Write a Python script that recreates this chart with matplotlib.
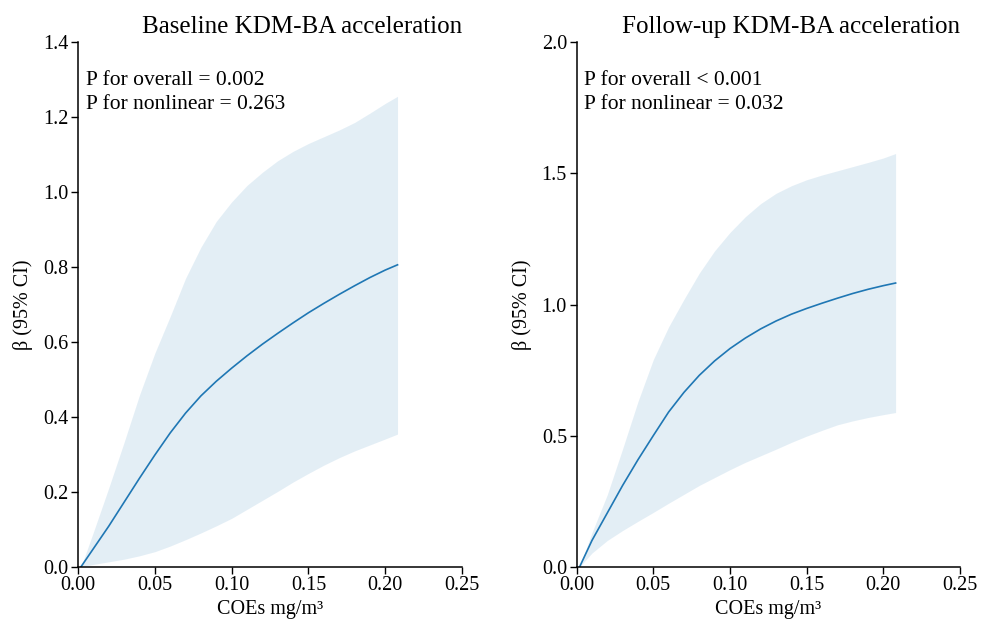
import matplotlib
matplotlib.use("Agg")
import matplotlib.pyplot as plt

plt.rcParams['font.family'] = ['Liberation Serif', 'DejaVu Serif']

# ---- data ----
x_vals = [0.002, 0.01, 0.02, 0.03, 0.04, 0.05, 0.06, 0.07, 0.08, 0.09, 0.10,
          0.11, 0.12, 0.13, 0.14, 0.15, 0.16, 0.17, 0.18, 0.19, 0.20, 0.208]

base_fit = [0.0, 0.048, 0.108, 0.172, 0.236, 0.298, 0.357, 0.41, 0.456, 0.495, 0.530,
            0.563, 0.594, 0.623, 0.651, 0.678, 0.703, 0.727, 0.750, 0.772, 0.792, 0.806]
base_upper = [0.0, 0.092, 0.21, 0.332, 0.458, 0.57, 0.668, 0.77, 0.853, 0.922, 0.974,
              1.018, 1.053, 1.084, 1.109, 1.130, 1.148, 1.166, 1.186, 1.211, 1.237, 1.256]
base_lower = [0.0, 0.006, 0.013, 0.020, 0.029, 0.040, 0.055, 0.072, 0.090, 0.109, 0.129,
              0.153, 0.177, 0.201, 0.226, 0.249, 0.271, 0.291, 0.309, 0.325, 0.341, 0.354]

fu_fit = [0.0, 0.10, 0.205, 0.31, 0.408, 0.50, 0.59, 0.665, 0.73, 0.785, 0.832,
          0.872, 0.907, 0.937, 0.963, 0.985, 1.005, 1.024, 1.042, 1.058, 1.072, 1.082]
fu_upper = [0.0, 0.13, 0.275, 0.45, 0.63, 0.79, 0.915, 1.02, 1.12, 1.205, 1.275,
            1.335, 1.385, 1.424, 1.453, 1.476, 1.494, 1.51, 1.526, 1.542, 1.559, 1.576]
fu_lower = [0.0, 0.052, 0.10, 0.138, 0.173, 0.207, 0.242, 0.276, 0.31, 0.34, 0.37,
            0.398, 0.423, 0.448, 0.474, 0.498, 0.52, 0.541, 0.556, 0.569, 0.58, 0.588]

titles = ["Baseline KDM-BA acceleration", "Follow-up KDM-BA acceleration"]
annotations = ["P for overall = 0.002\nP for nonlinear = 0.263",
               "P for overall < 0.001\nP for nonlinear = 0.032"]
x_ticks = [0.00, 0.05, 0.10, 0.15, 0.20, 0.25]
y_ticks_base = [0.0, 0.2, 0.4, 0.6, 0.8, 1.0, 1.2, 1.4]
y_ticks_fu = [0.0, 0.5, 1.0, 1.5, 2.0]

line_color = '#1f77b4'
band_color = '#1f77b4'

fig = plt.figure(figsize=(9.81, 6.23), dpi=100)
ax1 = fig.add_axes([0.0795, 0.0904, 0.3915, 0.8416])
ax2 = fig.add_axes([0.5878, 0.0904, 0.3908, 0.8416])

panels = [
    (ax1, base_fit, base_lower, base_upper, y_ticks_base),
    (ax2, fu_fit, fu_lower, fu_upper, y_ticks_fu),
]

for i, (ax, fit, lo, hi, yt) in enumerate(panels):
    ax.fill_between(x_vals, lo, hi, color=band_color, alpha=0.12, linewidth=0)
    ax.plot(x_vals, fit, color=line_color, linewidth=1.2)
    ax.set_xlim(0, 0.25)
    ax.set_ylim(yt[0], yt[-1])
    ax.set_xticks(x_ticks)
    ax.set_xticklabels([f"{t:.2f}" for t in x_ticks])
    ax.set_yticks(yt)
    ax.set_yticklabels([f"{t:.1f}" for t in yt])
    ax.tick_params(axis='both', labelsize=14.5, length=5, width=1, direction='out', pad=2)
    for s in ['top', 'right']:
        ax.spines[s].set_visible(False)
    for s in ['left', 'bottom']:
        ax.spines[s].set_linewidth(1.1)
    ax.set_xlabel("COEs mg/m³", fontsize=14.5, labelpad=3)
    ax.set_ylabel("β (95% CI)", fontsize=14.5, labelpad=7)
    ax.set_title(titles[i], fontsize=18, loc='right', pad=7)
    ax.text(0.02, 0.946, annotations[i], transform=ax.transAxes, fontsize=15.5,
            va='top', ha='left', linespacing=1.37)

fig.savefig("out.png", dpi=100)
